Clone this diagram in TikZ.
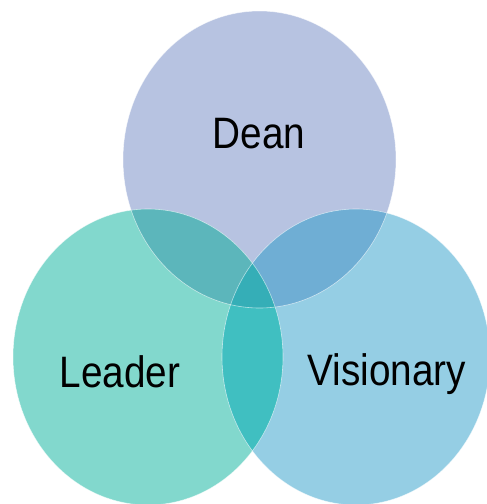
\documentclass[tikz,border=0pt]{standalone}
\usepackage{fontspec}
\setmainfont{Liberation Sans}
\definecolor{deanc}{HTML}{B7C3E1}
\definecolor{leaderc}{HTML}{82D8CD}
\definecolor{visionc}{HTML}{95CEE4}
\definecolor{deanleader}{HTML}{5CB6BB}
\definecolor{deanvision}{HTML}{6FAED4}
\definecolor{leadervision}{HTML}{40BFC1}
\definecolor{allthree}{HTML}{35AEB7}

\begin{document}
\begin{tikzpicture}[x=1pt,y=-1pt,
  wordtag/.style={font=\fontsize{44}{44}\selectfont, xscale=0.88},
  rim/.style={draw=white, draw opacity=0.6, line width=0.6pt}]
\useasboundingbox (0,0) rectangle (487,504);
\def\deanset{(259.5,159.5) ellipse [x radius=136.5, y radius=148.5]}
\def\leaderset{(148,357) ellipse [x radius=135, y radius=148]}
\def\visionset{(356,357) ellipse [x radius=134, y radius=148]}

\fill[deanc] \deanset;
\fill[leaderc] \leaderset;
\fill[visionc] \visionset;
\begin{scope}
  \clip \deanset;
  \fill[deanleader] \leaderset;
  \fill[deanvision] \visionset;
\end{scope}
\begin{scope}
  \clip \leaderset;
  \fill[leadervision] \visionset;
  \clip \visionset;
  \fill[allthree] \deanset;
\end{scope}
\draw[rim] \deanset;
\draw[rim] \leaderset;
\draw[rim] \visionset;

\node[wordtag] (dean) at (259,134) {Dean};
\node[wordtag] (leader) at (120,372) {Leader};
\node[wordtag] (visionary) at (387,374) {Visionary};
\end{tikzpicture}
\end{document}
